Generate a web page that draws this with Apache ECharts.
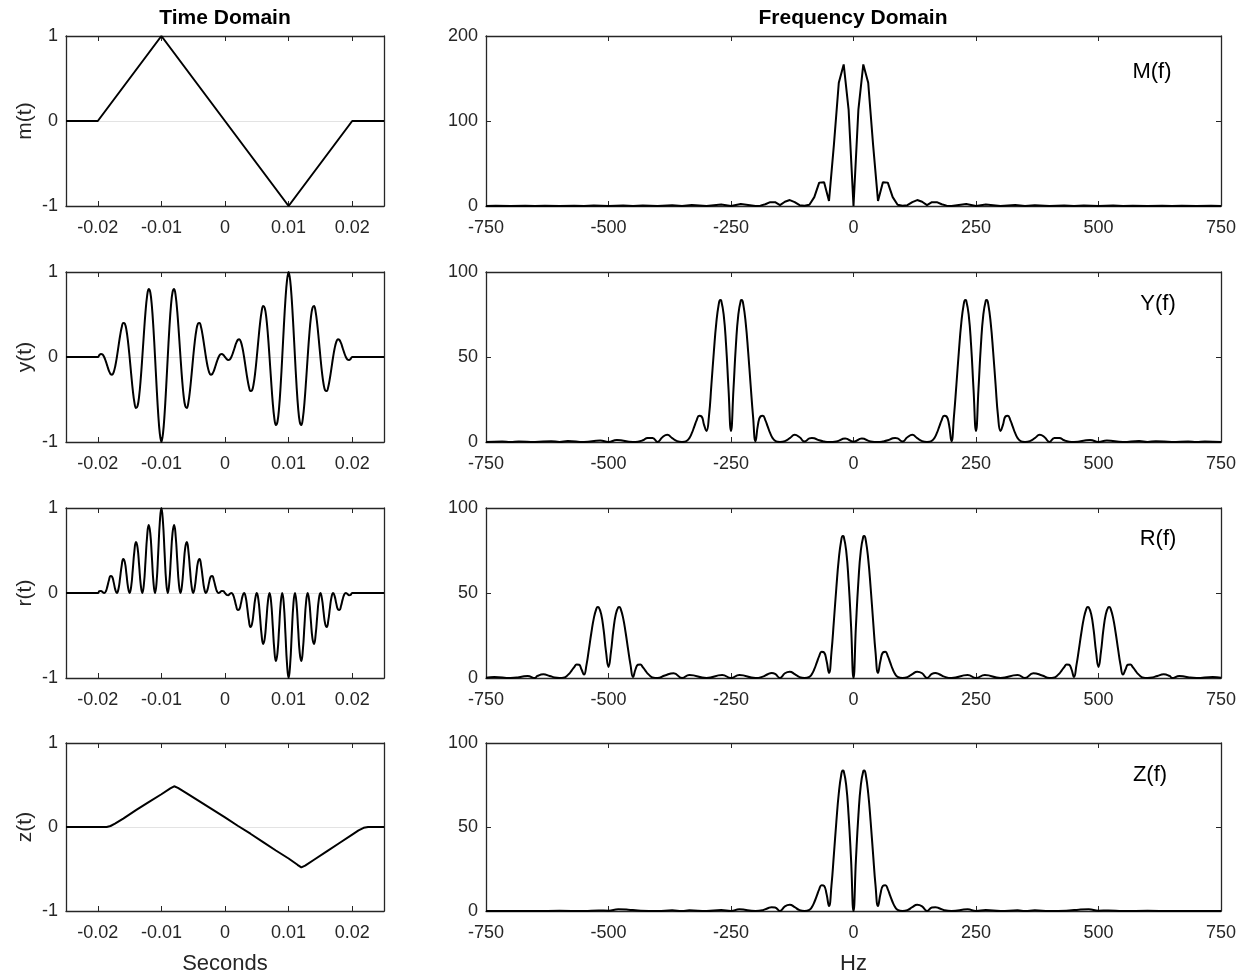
<!DOCTYPE html>
<html>
<head>
<meta charset="utf-8">
<script src="https://cdn.jsdelivr.net/npm/echarts@6/dist/echarts.min.js"></script>
<style>
html,body{margin:0;padding:0;background:#fff;}
#chart{width:1251px;height:976px;}
</style>
</head>
<body>
<div id="chart"></div>
<script>
// ---------------- DATA ----------------
// time-domain signals: [time in ms, value]
const mWave = [[-25,0],[-20,0],[-10,1],[10,-1],[20,0],[25,0]];

const yWave = [[-25,0],[-20,0],[-19.75,0.023],[-19.5,0.035],[-19.25,0.029],[-19,0],[-18.75,-0.048],[-18.5,-0.106],[-18.25,-0.162],
[-18,-0.2],[-17.75,-0.208],[-17.5,-0.177],[-17.25,-0.105],[-17,0],[-16.75,0.124],[-16.5,0.247],[-16.25,0.346],[-16,0.4],
[-15.75,0.393],[-15.5,0.318],[-15.25,0.182],[-15,0],[-14.75,-0.201],[-14.5,-0.389],[-14.25,-0.531],[-14,-0.6],[-13.75,-0.577],
[-13.5,-0.46],[-13.25,-0.258],[-13,0],[-12.75,0.277],[-12.5,0.53],[-12.25,0.716],[-12,0.8],[-11.75,0.762],[-11.5,0.601],
[-11.25,0.335],[-11,0],[-10.75,-0.354],[-10.5,-0.672],[-10.25,-0.901],[-10,-1],[-9.75,-0.901],[-9.5,-0.672],[-9.25,-0.354],
[-9,0],[-8.75,0.335],[-8.5,0.601],[-8.25,0.762],[-8,0.8],[-7.75,0.716],[-7.5,0.53],[-7.25,0.277],[-7,0],[-6.75,-0.258],
[-6.5,-0.46],[-6.25,-0.577],[-6,-0.6],[-5.75,-0.531],[-5.5,-0.389],[-5.25,-0.201],[-5,0],[-4.75,0.182],[-4.5,0.318],
[-4.25,0.393],[-4,0.4],[-3.75,0.346],[-3.5,0.247],[-3.25,0.124],[-3,0],[-2.75,-0.105],[-2.5,-0.177],[-2.25,-0.208],[-2,-0.2],
[-1.75,-0.162],[-1.5,-0.106],[-1.25,-0.048],[-1,0],[-0.75,0.029],[-0.5,0.035],[-0.25,0.023],[0,0],
[0.25,-0.023],[0.5,-0.035],[0.75,-0.029],[1,0],[1.25,0.048],[1.5,0.106],[1.75,0.162],[2,0.2],[2.25,0.208],[2.5,0.177],
[2.75,0.105],[3,0],[3.25,-0.124],[3.5,-0.247],[3.75,-0.346],[4,-0.4],[4.25,-0.393],[4.5,-0.318],[4.75,-0.182],[5,0],
[5.25,0.201],[5.5,0.389],[5.75,0.531],[6,0.6],[6.25,0.577],[6.5,0.46],[6.75,0.258],[7,0],[7.25,-0.277],[7.5,-0.53],
[7.75,-0.716],[8,-0.8],[8.25,-0.762],[8.5,-0.601],[8.75,-0.335],[9,0],[9.25,0.354],[9.5,0.672],[9.75,0.901],[10,1],
[10.25,0.901],[10.5,0.672],[10.75,0.354],[11,0],[11.25,-0.335],[11.5,-0.601],[11.75,-0.762],[12,-0.8],[12.25,-0.716],
[12.5,-0.53],[12.75,-0.277],[13,0],[13.25,0.258],[13.5,0.46],[13.75,0.577],[14,0.6],[14.25,0.531],[14.5,0.389],[14.75,0.201],
[15,0],[15.25,-0.182],[15.5,-0.318],[15.75,-0.393],[16,-0.4],[16.25,-0.346],[16.5,-0.247],[16.75,-0.124],[17,0],[17.25,0.105],
[17.5,0.177],[17.75,0.208],[18,0.2],[18.25,0.162],[18.5,0.106],[18.75,0.048],[19,0],[19.25,-0.029],[19.5,-0.035],
[19.75,-0.023],[20,0],[25,0]];

const rWave = [[-25,0],[-20,0],[-19.75,0.021],[-19.5,0.025],[-19.25,0.011],[-19,0],[-18.75,0.018],[-18.5,0.075],[-18.25,0.149],[-18,0.2],
[-17.75,0.192],[-17.5,0.125],[-17.25,0.04],[-17,0],[-16.75,0.048],[-16.5,0.175],[-16.25,0.32],[-16,0.4],
[-15.75,0.363],[-15.5,0.225],[-15.25,0.07],[-15,0],[-14.75,0.077],[-14.5,0.275],[-14.25,0.491],[-14,0.6],
[-13.75,0.534],[-13.5,0.325],[-13.25,0.099],[-13,0],[-12.75,0.106],[-12.5,0.375],[-12.25,0.662],[-12,0.8],
[-11.75,0.704],[-11.5,0.425],[-11.25,0.128],[-11,0],[-10.75,0.135],[-10.5,0.475],[-10.25,0.832],[-10,1],
[-9.75,0.832],[-9.5,0.475],[-9.25,0.135],[-9,0],[-8.75,0.128],[-8.5,0.425],[-8.25,0.704],[-8,0.8],
[-7.75,0.662],[-7.5,0.375],[-7.25,0.106],[-7,0],[-6.75,0.099],[-6.5,0.325],[-6.25,0.534],[-6,0.6],
[-5.75,0.491],[-5.5,0.275],[-5.25,0.077],[-5,0],[-4.75,0.07],[-4.5,0.225],[-4.25,0.363],[-4,0.4],
[-3.75,0.32],[-3.5,0.175],[-3.25,0.048],[-3,0],[-2.75,0.04],[-2.5,0.125],[-2.25,0.192],[-2,0.2],
[-1.75,0.149],[-1.5,0.075],[-1.25,0.018],[-1,0],[-0.75,0.011],[-0.5,0.025],[-0.25,0.021],[0,0],
[0.25,-0.021],[0.5,-0.025],[0.75,-0.011],[1,0],[1.25,-0.018],[1.5,-0.075],[1.75,-0.149],[2,-0.2],
[2.25,-0.192],[2.5,-0.125],[2.75,-0.04],[3,0],[3.25,-0.048],[3.5,-0.175],[3.75,-0.32],[4,-0.4],
[4.25,-0.363],[4.5,-0.225],[4.75,-0.07],[5,0],[5.25,-0.077],[5.5,-0.275],[5.75,-0.491],[6,-0.6],
[6.25,-0.534],[6.5,-0.325],[6.75,-0.099],[7,0],[7.25,-0.106],[7.5,-0.375],[7.75,-0.662],[8,-0.8],
[8.25,-0.704],[8.5,-0.425],[8.75,-0.128],[9,0],[9.25,-0.135],[9.5,-0.475],[9.75,-0.832],[10,-1],
[10.25,-0.832],[10.5,-0.475],[10.75,-0.135],[11,0],[11.25,-0.128],[11.5,-0.425],[11.75,-0.704],[12,-0.8],
[12.25,-0.662],[12.5,-0.375],[12.75,-0.106],[13,0],[13.25,-0.099],[13.5,-0.325],[13.75,-0.534],[14,-0.6],
[14.25,-0.491],[14.5,-0.275],[14.75,-0.077],[15,0],[15.25,-0.07],[15.5,-0.225],[15.75,-0.363],[16,-0.4],
[16.25,-0.32],[16.5,-0.175],[16.75,-0.048],[17,0],[17.25,-0.04],[17.5,-0.125],[17.75,-0.192],[18,-0.2],
[18.25,-0.149],[18.5,-0.075],[18.75,-0.018],[19,0],[19.25,-0.011],[19.5,-0.025],[19.75,-0.021],[20,0],[25,0]];

const zWave = [[-25,0],[-18.6,0],[-18,0.012],[-17.3,0.04],[-16,0.1],[-14,0.2],[-12,0.295],[-10,0.39],[-8.6,0.46],[-8,0.485],
[-7.4,0.465],[-6,0.4],[-4,0.305],[-2,0.21],[0,0.115],[2,0.015],[4,-0.08],[6,-0.18],[8,-0.28],[10,-0.375],[11.4,-0.45],
[12,-0.48],[12.6,-0.46],[14,-0.39],[16,-0.29],[18,-0.19],[20,-0.09],[21,-0.04],[21.8,-0.01],[22.5,0],[25,0]];

// frequency-domain magnitudes: [Hz, |X(f)|]
const mSpec = [[-750,0],[-730,0.2],[-700,0],[-670,0.3],[-650,0],[-630,0.3],[-600,0],[-570,0.4],[-550,0],[-530,0.5],[-500,0],
[-470,0.6],[-450,0],[-430,0.7],[-400,0],[-370,1],[-350,0],[-330,1.2],[-300,0],[-270,1.8],[-250,0],[-230,2.4],[-200,0.1],
[-190,0.4],[-180,2.1],[-170,4.5],[-160,4.5],[-150,1],[-140,5],[-130,7],[-120,4.6],[-110,1],[-100,0.3],[-90,1.5],[-80,10.4],
[-70,27.5],[-60,28],[-50,6],[-40,72],[-30,145],[-20,166.5],[-10,113.5],[0,0],[10,113.5],[20,166.5],[30,145],[40,72],[50,6],
[60,28],[70,27.5],[80,10.4],[90,1.5],[100,0.3],[110,1],[120,4.6],[130,7],[140,5],[150,1],[160,4.5],[170,4.5],[180,2.1],
[190,0.4],[200,0.1],[230,2.4],[250,0],[270,1.8],[300,0],[330,1.2],[350,0],[370,1],[400,0],[430,0.7],[450,0],[470,0.6],
[500,0],[530,0.5],[550,0],[570,0.4],[600,0],[630,0.3],[650,0],[670,0.3],[700,0],[730,0.2],[750,0]];

const ySpec = [[-750,0],[-717,0.3],[-700,0],[-683,0.35],[-650,0],[-617,0.5],[-600,0],[-583,0.6],[-550,0],[-517,0.9],[-500,0],
[-483,1.2],[-450,0],[-440,0.2],[-430,1.0],[-420,2.4],[-410,2.4],[-400,0],[-390,2.8],[-380,4.2],[-370,2.3],[-360,0.5],[-350,0],
[-345,0.1],[-340,0.7],[-335,2.3],[-330,5.2],[-325,9.0],[-320,12.9],[-315,15.4],[-310,15.0],[-305,10.1],[-300,6.5],[-295,15.1],
[-290,33.7],[-285,53.1],[-280,70.1],[-275,81.1],[-272,83.6],[-270,83.3],[-265,75.1],[-260,56.9],[-255,30.7],[-250,6.5],
[-245,30.7],[-240,56.9],[-235,75.1],[-230,83.3],[-228,83.6],[-225,81.1],[-220,70.1],[-215,53.1],[-210,33.7],[-205,15.1],
[-200,0.5],[-195,10.1],[-190,15.0],[-185,15.4],[-180,12.9],[-175,9.0],[-170,5.2],[-165,2.3],[-160,0.7],[-155,0.1],[-150,0],
[-140,0.5],[-130,2.3],[-120,4.2],[-110,2.8],[-100,0.3],[-90,2.1],[-85,2.4],[-80,2.2],[-70,1.0],[-60,0.3],[-50,0],[-35,0.3],
[-17,2.0],[0,0.2],[17,2.0],[35,0.3],[50,0],[60,0.3],[70,1.0],[80,2.2],[85,2.4],[90,2.1],[100,0.3],[110,2.8],[120,4.2],
[130,2.3],[140,0.5],[150,0],[155,0.1],[160,0.7],[165,2.3],[170,5.2],[175,9.0],[180,12.9],[185,15.4],[190,15.0],[195,10.1],
[200,0.5],[205,15.1],[210,33.7],[215,53.1],[220,70.1],[225,81.1],[228,83.6],[230,83.3],[235,75.1],[240,56.9],[245,30.7],
[250,6.5],[255,30.7],[260,56.9],[265,75.1],[270,83.3],[272,83.6],[275,81.1],[280,70.1],[285,53.1],[290,33.7],[295,15.1],
[300,6.5],[305,10.1],[310,15.0],[315,15.4],[320,12.9],[325,9.0],[330,5.2],[335,2.3],[340,0.7],[345,0.1],[350,0],[360,0.5],
[370,2.3],[380,4.2],[390,2.8],[400,0],[410,2.4],[420,2.4],[430,1.0],[440,0.2],[450,0],[483,1.2],[500,0],[517,0.9],[550,0],
[583,0.6],[600,0],[617,0.5],[650,0],[683,0.35],[700,0],[717,0.3],[750,0]];

const rSpec = [[-750,0.1],[-733,0.6],[-700,0],[-685,0.3],[-675,0.9],[-665,1.2],[-650,0],[-645,1.2],[-633,2.2],[-620,1.2],
[-610,0.3],[-600,0],[-590,0.35],[-585,1.2],[-580,2.6],[-575,4.5],[-570,6.4],[-565,8.0],[-560,7.8],[-555,5.0],[-550,2],
[-545,7.6],[-540,16.8],[-535,26.6],[-530,35.1],[-525,40.5],[-522,41.8],[-520,41.6],[-515,37.6],[-510,28.4],[-505,15.3],
[-500,6.5],[-495,15.3],[-490,28.4],[-485,37.6],[-480,41.6],[-478,41.8],[-475,40.5],[-470,35.1],[-465,26.6],[-460,16.8],
[-455,7.6],[-450,0.6],[-445,5.0],[-440,7.8],[-435,8.0],[-430,6.4],[-425,4.5],[-420,2.6],[-415,1.2],[-410,0.35],[-400,0],
[-385,1.5],[-367,2.8],[-350,0],[-335,1.8],[-300,0],[-268,1.8],[-250,0],[-233,1.8],[-200,0],[-185,0.8],[-175,2.2],[-167,2.9],
[-160,2.4],[-150,0],[-140,2.8],[-130,3.7],[-120,2.3],[-110,0.5],[-100,0],[-90,0.7],[-85,2.3],[-80,5.2],[-75,9.0],[-70,12.9],
[-65,15.4],[-60,15.0],[-55,10.1],[-50,3],[-45,15.1],[-40,33.7],[-35,53.1],[-30,70.1],[-25,81.1],[-22,83.6],[-20,83.3],
[-15,75.1],[-10,56.9],[-5,30.7],[0,0],[5,30.7],[10,56.9],[15,75.1],[20,83.3],[22,83.6],[25,81.1],[30,70.1],[35,53.1],
[40,33.7],[45,15.1],[50,3],[55,10.1],[60,15.0],[65,15.4],[70,12.9],[75,9.0],[80,5.2],[85,2.3],[90,0.7],[100,0],[110,0.5],
[120,2.3],[130,3.7],[140,2.8],[150,0],[160,2.4],[167,2.9],[175,2.2],[185,0.8],[200,0],[233,1.8],[250,0],[268,1.8],[300,0],
[335,1.8],[350,0],[367,2.8],[385,1.5],[400,0],[410,0.35],[415,1.2],[420,2.6],[425,4.5],[430,6.4],[435,8.0],[440,7.8],
[445,5.0],[450,0.6],[455,7.6],[460,16.8],[465,26.6],[470,35.1],[475,40.5],[478,41.8],[480,41.6],[485,37.6],[490,28.4],
[495,15.3],[500,6.5],[505,15.3],[510,28.4],[515,37.6],[520,41.6],[522,41.8],[525,40.5],[530,35.1],[535,26.6],[540,16.8],
[545,7.6],[550,2],[555,5.0],[560,7.8],[565,8.0],[570,6.4],[575,4.5],[580,2.6],[585,1.2],[590,0.35],[600,0],[610,0.3],
[620,1.2],[633,2.2],[645,1.2],[650,0],[665,1.2],[675,0.9],[685,0.3],[700,0],[733,0.6],[750,0.1]];

const zSpec = [[-750,0],[-650,0],[-600,0.1],[-550,0],[-520,0.3],[-500,0.2],[-480,1.0],[-460,0.8],[-440,0.3],[-400,0],
[-370,0.4],[-350,0],[-335,0.4],[-300,0],[-270,0.6],[-250,0],[-233,1.0],[-200,0],[-185,0.5],[-175,1.6],[-167,2.3],[-160,2.1],
[-150,0],[-140,2.8],[-130,3.7],[-120,2.3],[-110,0.5],[-100,0],[-90,0.7],[-85,2.3],[-80,5.2],[-75,9.0],[-70,12.9],[-65,15.4],
[-60,15.0],[-55,10.1],[-50,3],[-45,15.1],[-40,33.7],[-35,53.1],[-30,70.1],[-25,81.1],[-22,83.6],[-20,83.3],[-15,75.1],
[-10,56.9],[-5,30.7],[0,0],[5,30.7],[10,56.9],[15,75.1],[20,83.3],[22,83.6],[25,81.1],[30,70.1],[35,53.1],[40,33.7],
[45,15.1],[50,3],[55,10.1],[60,15.0],[65,15.4],[70,12.9],[75,9.0],[80,5.2],[85,2.3],[90,0.7],[100,0],[110,0.5],[120,2.3],
[130,3.7],[140,2.8],[150,0],[160,2.1],[167,2.3],[175,1.6],[185,0.5],[200,0],[233,1.0],[250,0],[270,0.6],[300,0],[335,0.4],
[350,0],[370,0.4],[400,0],[440,0.3],[460,0.8],[480,1.0],[500,0.2],[520,0.3],[550,0],[600,0.1],[650,0],[750,0]];

const timeTicks = [-0.02, -0.01, 0, 0.01, 0.02];
const timeLabels = ['m(t)', 'y(t)', 'r(t)', 'z(t)'];
const specLabels = ['M(f)', 'Y(f)', 'R(f)', 'Z(f)'];
const specMax = [200, 100, 100, 100];
const specInterval = [100, 50, 50, 50];

// ---------------- LAYOUT ----------------
const FONT = '"Liberation Sans", Arial, Helvetica, sans-serif';
const INK = '#262626';
const rowTops = [36, 272, 508, 743];
const rowH = 170;
const leftX = 66, leftW = 318, rightX = 486, rightW = 735;
const tickFont = 18;

const timeSeries = [mWave, yWave, rWave, zWave];
const specSeries = [mSpec, ySpec, rSpec, zSpec];
const timeSmooth = [false, 0.4, 0.5, false];
const specSmooth = [false, 0.5, 0.5, 0.5];

const grid = [], xAxis = [], yAxis = [], series = [];
const lineAx = {show: true, onZero: false, lineStyle: {color: INK, width: 1.3}};

function addPanel(gx, gw, top, xcfg, ycfg, data, smooth, ylabel, xname) {
  const gi = grid.length;
  grid.push({left: gx, top: top, width: gw, height: rowH, containLabel: false});
  const xBase = Object.assign({gridIndex: gi, type: 'value', splitLine: {show: false}, axisLine: lineAx}, xcfg.range);
  xAxis.push(Object.assign({}, xBase, {
    position: 'bottom',
    axisTick: Object.assign({show: true, inside: true, length: 5, lineStyle: {color: INK, width: 1}}, xcfg.tick),
    axisLabel: Object.assign({show: true, color: INK, fontSize: tickFont, fontFamily: FONT, margin: 13}, xcfg.label),
    name: xname || '', nameLocation: 'middle', nameGap: 42,
    nameTextStyle: {color: INK, fontSize: 22, fontFamily: FONT}
  }));
  xAxis.push(Object.assign({}, xBase, {
    position: 'top',
    axisTick: Object.assign({show: true, inside: true, length: 5, lineStyle: {color: INK, width: 1}}, xcfg.tick),
    axisLabel: {show: false}
  }));
  const yBase = Object.assign({gridIndex: gi, type: 'value', axisLine: lineAx}, ycfg.range);
  yAxis.push(Object.assign({}, yBase, {
    position: 'left',
    axisTick: {show: true, inside: true, length: 5, lineStyle: {color: INK, width: 1}},
    axisLabel: {show: true, color: INK, fontSize: tickFont, fontFamily: FONT, margin: 8},
    splitLine: ycfg.split ? {show: true, lineStyle: {color: '#e3e3e3', width: 1}} : {show: false},
    name: ylabel || '', nameLocation: 'middle', nameGap: 30, nameRotate: 90,
    nameTextStyle: {color: INK, fontSize: 21, fontFamily: FONT}
  }));
  yAxis.push(Object.assign({}, yBase, {
    position: 'right',
    axisTick: {show: true, inside: true, length: 5, lineStyle: {color: INK, width: 1}},
    axisLabel: {show: false}, splitLine: {show: false}
  }));
  series.push({
    type: 'line', xAxisIndex: 2 * gi, yAxisIndex: 2 * gi, data: data,
    showSymbol: false, symbol: 'none', smooth: smooth,
    lineStyle: {color: '#000', width: 2}, animation: false, silent: true, z: 5
  });
}

for (let i = 0; i < 4; i++) {
  addPanel(leftX, leftW, rowTops[i],
    {range: {min: -0.025, max: 0.025},
     tick: {customValues: timeTicks},
     label: {customValues: timeTicks, formatter: v => String(+(+v).toFixed(3))}},
    {range: {min: -1, max: 1, interval: 1}, split: true},
    timeSeries[i].map(p => [p[0] / 1000, p[1]]), timeSmooth[i], timeLabels[i], i === 3 ? 'Seconds' : '');
}
for (let i = 0; i < 4; i++) {
  addPanel(rightX, rightW, rowTops[i],
    {range: {min: -750, max: 750, interval: 250}, tick: {}, label: {}},
    {range: {min: 0, max: specMax[i], interval: specInterval[i]}, split: false},
    specSeries[i], specSmooth[i], '', i === 3 ? 'Hz' : '');
}

const labelPos = [[1152, 72], [1158, 304], [1158, 539], [1150, 775]];
const graphic = [
  {type: 'text', x: 225, y: 18, style: {text: 'Time Domain', font: 'bold 21px ' + FONT, fill: '#000', align: 'center', verticalAlign: 'middle'}},
  {type: 'text', x: 853, y: 18, style: {text: 'Frequency Domain', font: 'bold 21px ' + FONT, fill: '#000', align: 'center', verticalAlign: 'middle'}}
];
specLabels.forEach((t, i) => graphic.push({type: 'text', x: labelPos[i][0], y: labelPos[i][1],
  style: {text: t, font: '22px ' + FONT, fill: '#000', align: 'center', verticalAlign: 'middle'}}));

const chart = echarts.init(document.getElementById('chart'), null, {renderer: 'canvas'});
chart.setOption({
  animation: false,
  backgroundColor: '#fff',
  textStyle: {fontFamily: FONT},
  grid, xAxis, yAxis, series, graphic
});
</script>
</body>
</html>
